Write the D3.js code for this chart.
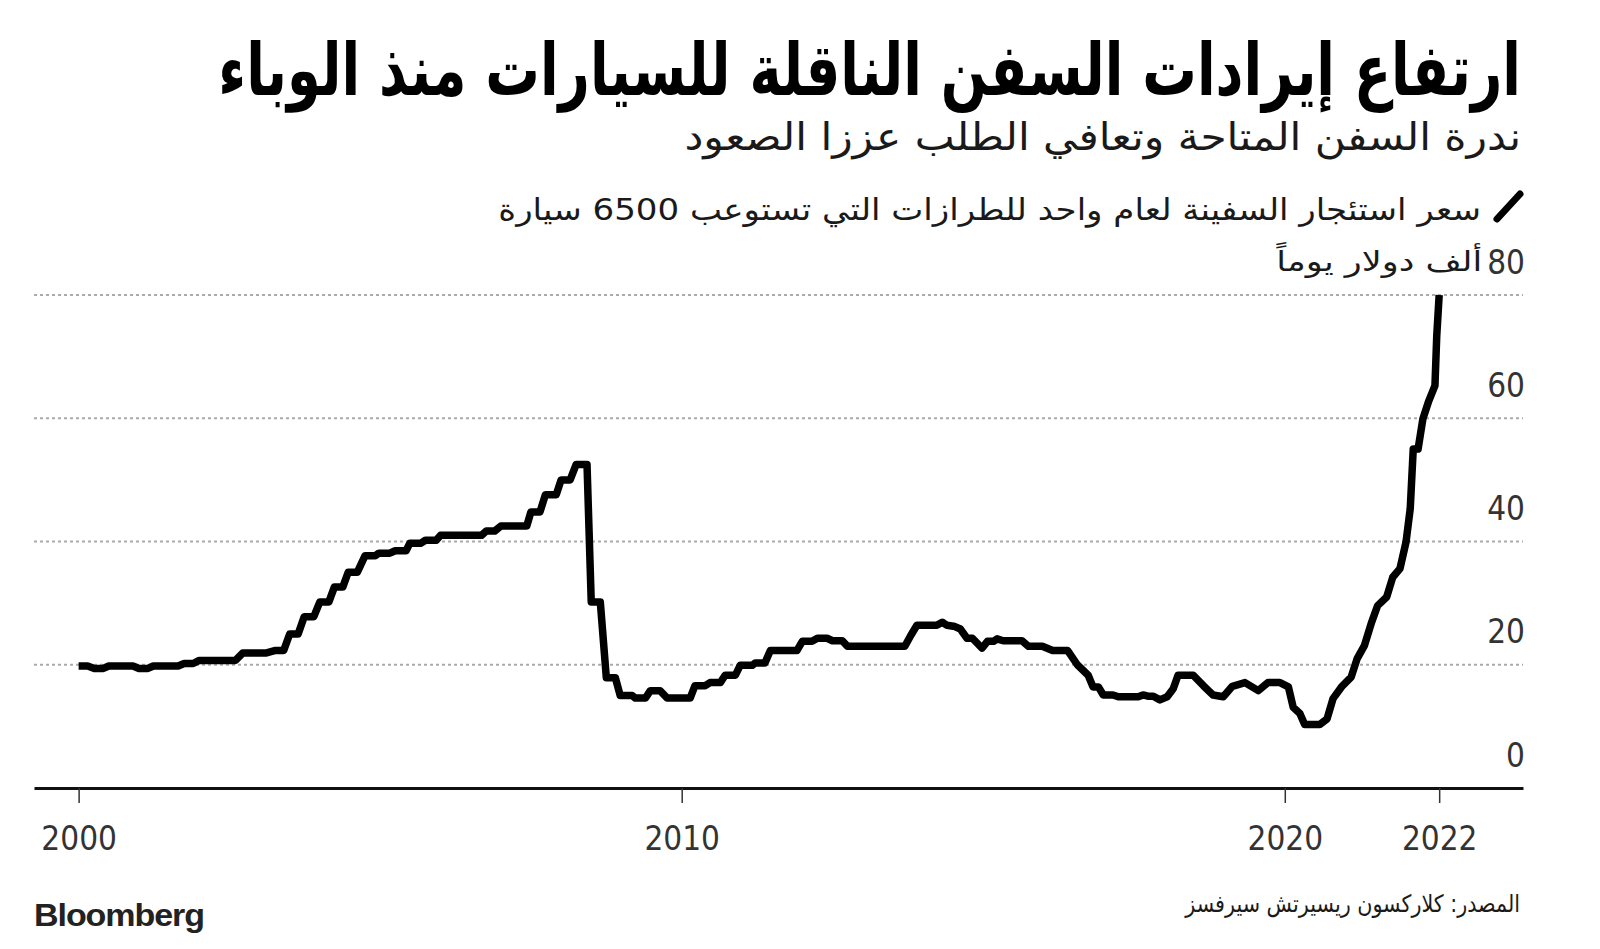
<!DOCTYPE html>
<html>
<head>
  <meta charset="utf-8">
  <style>
    body { margin: 0; background: #fff; }
    svg { display: block; background: #fff; }
    .num { font-family: "DejaVu Sans Condensed", "DejaVu Sans", sans-serif; fill: #333; }
    .ar { font-family: "DejaVu Sans Condensed", "DejaVu Sans", sans-serif; fill: #111; }
  </style>
</head>
<body>
  <div id="chart"></div>

  <script src="https://d3js.org/d3.v7.min.js"></script>
  <script>
    // one-year charter rate, 6,500-car carriers ($000/day)
    var dates = [
      2000.00, 2000.15, 2000.26, 2000.41, 2000.50, 2000.90, 2001.00, 2001.15, 2001.24, 2001.65,
      2001.75, 2001.90, 2002.00, 2002.60, 2002.72, 2003.10, 2003.25, 2003.40, 2003.50, 2003.64,
      2003.74, 2003.90, 2004.00, 2004.15, 2004.24, 2004.38, 2004.47, 2004.62, 2004.75, 2004.92,
      2004.98, 2005.16, 2005.25, 2005.43, 2005.49, 2005.67, 2005.75, 2005.93, 2006.00, 2006.68,
      2006.76, 2006.90, 2007.00, 2007.43, 2007.50, 2007.65, 2007.74, 2007.92, 2008.00, 2008.15,
      2008.25, 2008.43, 2008.50, 2008.65, 2008.75, 2008.90, 2008.98, 2009.18, 2009.23, 2009.40,
      2009.48, 2009.64, 2009.76, 2010.14, 2010.22, 2010.39, 2010.47, 2010.64, 2010.72, 2010.89,
      2010.97, 2011.17, 2011.22, 2011.38, 2011.47, 2011.91, 2012.00, 2012.16, 2012.25, 2012.41,
      2012.50, 2012.66, 2012.75, 2013.70, 2013.80, 2013.90, 2014.23, 2014.32, 2014.40, 2014.53,
      2014.62, 2014.73, 2014.82, 2014.98, 2015.07, 2015.17, 2015.23, 2015.33, 2015.64, 2015.75,
      2015.98, 2016.15, 2016.40, 2016.56, 2016.74, 2016.82, 2016.91, 2016.99, 2017.15, 2017.24,
      2017.57, 2017.65, 2017.73, 2017.82, 2017.93, 2018.05, 2018.15, 2018.23, 2018.48, 2018.65,
      2018.81, 2018.98, 2019.13, 2019.34, 2019.56, 2019.72, 2019.92, 2020.06, 2020.14, 2020.25,
      2020.33, 2020.58, 2020.70, 2020.80, 2020.94, 2021.10, 2021.20, 2021.32, 2021.44, 2021.54,
      2021.69, 2021.79, 2021.91, 2022.01, 2022.08, 2022.13, 2022.21, 2022.29, 2022.38, 2022.49,
      2022.52, 2022.56
    ];
    var rates = [
      19.8, 19.8, 19.4, 19.4, 19.8, 19.8, 19.4, 19.4, 19.8, 19.8,
      20.2, 20.2, 20.7, 20.7, 21.9, 21.9, 22.3, 22.3, 25.0, 25.0,
      27.8, 27.8, 30.2, 30.2, 32.6, 32.6, 35.0, 35.0, 37.7, 37.7,
      38.1, 38.1, 38.5, 38.5, 39.7, 39.7, 40.2, 40.2, 41.0, 41.0,
      41.7, 41.7, 42.5, 42.5, 44.8, 44.8, 47.6, 47.6, 50.0, 50.0,
      52.5, 52.5, 30.2, 30.2, 17.9, 17.9, 15.0, 15.0, 14.6, 14.6,
      15.8, 15.8, 14.6, 14.6, 16.6, 16.6, 17.1, 17.1, 18.3, 18.3,
      19.9, 19.9, 20.3, 20.3, 22.3, 22.3, 23.8, 23.8, 24.3, 24.3,
      23.9, 23.9, 23.0, 23.0, 24.8, 26.4, 26.4, 26.9, 26.4, 26.2,
      25.8, 24.3, 24.3, 22.7, 23.8, 23.8, 24.2, 23.9, 23.9, 23.0,
      23.0, 22.3, 22.3, 20.0, 18.3, 16.4, 16.4, 15.1, 15.1, 14.8,
      14.8, 15.1, 14.9, 14.9, 14.3, 14.8, 16.1, 18.3, 18.3, 16.6,
      15.1, 14.8, 16.5, 17.1, 15.8, 17.1, 17.1, 16.4, 13.1, 12.1,
      10.3, 10.3, 11.2, 14.5, 16.4, 18.0, 21.0, 23.1, 26.9, 29.6,
      31.0, 34.2, 35.6, 39.9, 45.3, 55.0, 55.0, 59.9, 62.6, 65.3,
      73.4, 80.0
    ];

    var xTickValues = [2000, 2010, 2020, 2022.56];
    var xTickLabels = ["2000", "2010", "2020", "2022"];
    var yTicks = [0, 20, 40, 60, 80];

    var titleText = "ارتفاع إيرادات السفن الناقلة للسيارات منذ الوباء";
    var subtitleText = "ندرة السفن المتاحة وتعافي الطلب عززا الصعود";
    var legendText = "سعر استئجار السفينة لعام واحد للطرازات التي تستوعب 6500 سيارة";
    var unitText = "ألف دولار يوماً";
    var sourceText = "المصدر: كلاركسون ريسيرتش سيرفسز";

    var width = 1600, height = 949;
    var plot = {left: 34, right: 1523, top: 295, bottom: 788};

    var svg = d3.select("#chart")
        .append("svg")
        .attr("width", width)
        .attr("height", height);

    var x = d3.scaleLinear()
        .domain([1999.26, 2023.95])
        .range([plot.left, plot.right]);

    var y = d3.scaleLinear()
        .domain([0, 80])
        .range([plot.bottom, plot.top]);

    // squeeze / stretch a right-anchored text so it spans the width seen in the reference
    function fitText(sel, xr, yb, w) {
      var len = sel.node().getComputedTextLength();
      sel.attr("transform", "translate(" + xr + "," + yb + ") scale(" + (w / len) + ",1)");
    }

    // header
    var title = svg.append("text")
        .attr("class", "ar")
        .attr("text-anchor", "end")
        .style("font-size", "72px")
        .style("font-weight", "bold")
        .style("fill", "#000")
        .text(titleText);
    fitText(title, 1521, 95, 1303);

    var subtitle = svg.append("text")
        .attr("class", "ar")
        .attr("text-anchor", "end")
        .style("font-size", "38px")
        .style("fill", "#1a1a1a")
        .text(subtitleText);
    fitText(subtitle, 1521, 150, 837);

    // legend
    svg.append("line")
        .attr("x1", 1497).attr("y1", 219)
        .attr("x2", 1520).attr("y2", 194)
        .attr("stroke", "#000")
        .attr("stroke-width", 7)
        .attr("stroke-linecap", "round");

    var legend = svg.append("text")
        .attr("class", "ar")
        .attr("text-anchor", "end")
        .style("font-size", "30px")
        .style("fill", "#1a1a1a")
        .text(legendText);
    fitText(legend, 1481, 220, 983);

    // grid
    svg.append("g")
        .selectAll("line")
        .data(yTicks.filter(d => d > 0))
        .enter()
        .append("line")
        .attr("x1", plot.left)
        .attr("x2", plot.right)
        .attr("y1", d => y(d))
        .attr("y2", d => y(d))
        .attr("stroke", "#aaa")
        .attr("stroke-width", 2)
        .attr("stroke-dasharray", "3,3");

    // y labels, right side above each grid line
    var yAxis = svg.append("g")
        .attr("transform", "translate(1525,0)")
        .call(d3.axisLeft(y).tickValues(yTicks).tickSize(0).tickPadding(0));
    yAxis.select(".domain").remove();
    yAxis.selectAll("text")
        .attr("class", "num")
        .attr("x", 0)
        .attr("y", -22)
        .attr("dy", 0)
        .style("font-size", "33px");

    var eighty = yAxis.selectAll(".tick text").filter(d => d === 80).node().getBBox();
    var unit = svg.append("text")
        .attr("class", "ar")
        .attr("text-anchor", "end")
        .style("font-size", "28px")
        .style("fill", "#1a1a1a")
        .text(unitText);
    fitText(unit, 1525 + eighty.x - 5, y(80) - 24, 206);

    // x axis
    var xAxis = svg.append("g")
        .attr("transform", "translate(0," + plot.bottom + ")")
        .call(d3.axisBottom(x)
          .tickValues(xTickValues)
          .tickFormat((d, i) => xTickLabels[i])
          .tickSize(15)
          .tickSizeOuter(0));
    xAxis.select(".domain")
        .attr("stroke", "#111")
        .attr("stroke-width", 3);
    xAxis.selectAll(".tick line")
        .attr("stroke", "#333")
        .attr("stroke-width", 1.5);
    xAxis.selectAll("text")
        .attr("class", "num")
        .attr("y", 62)
        .attr("dy", 0)
        .style("font-size", "33px");

    // the series
    var points = dates.map((d, i) => [d, rates[i]]);
    svg.append("path")
        .datum(points)
        .attr("fill", "none")
        .attr("stroke", "#000")
        .attr("stroke-width", 7.5)
        .attr("stroke-linejoin", "round")
        .attr("d", d3.line().x(d => x(d[0])).y(d => y(d[1])));

    // footer
    var source = svg.append("text")
        .attr("class", "ar")
        .attr("text-anchor", "end")
        .style("font-size", "24px")
        .style("fill", "#1a1a1a")
        .text(sourceText);
    fitText(source, 1520, 912, 335);

    svg.append("text")
        .attr("x", 34)
        .attr("y", 926)
        .attr("textLength", 170)
        .attr("lengthAdjust", "spacingAndGlyphs")
        .style("font-family", "'Liberation Sans', Arial, sans-serif")
        .style("font-weight", "bold")
        .style("font-size", "32px")
        .style("letter-spacing", "-1px")
        .style("fill", "#222")
        .text("Bloomberg");
  </script>
</body>
</html>
